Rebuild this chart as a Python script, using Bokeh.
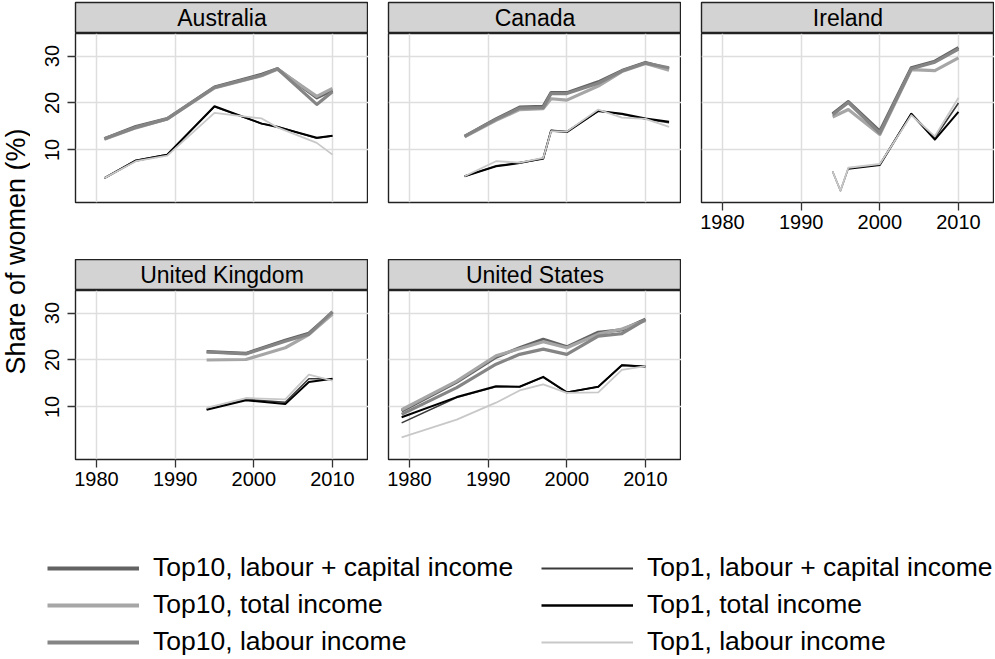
import math
from bokeh.plotting import figure
from bokeh.models import Range1d, FixedTicker, Label, Legend, LegendItem
from bokeh.layouts import row, column
from bokeh.embed import file_html
from bokeh.resources import INLINE

FONT = "Liberation Sans"

# ---------------- data ----------------
SERIES = ["Top10, labour + capital income", "Top10, total income", "Top10, labour income",
          "Top1, labour + capital income", "Top1, total income", "Top1, labour income"]

AUS_YEARS = [1981, 1985, 1989, 1995, 2001, 2003, 2008, 2010]
AUS_T10_LC = [12.4, 15.0, 16.7, 23.4, 26.1, 27.3, 21.1, 22.7]
AUS_T10_TOT = [12.3, 14.7, 16.6, 23.2, 25.8, 27.2, 21.4, 23.1]
AUS_T10_LAB = [12.4, 14.8, 16.6, 23.3, 25.9, 27.3, 19.7, 22.4]
AUS_T1_LC = [4.0, 7.8, 9.0, 19.2, 15.6, 15.0, 12.5, 13.0]
AUS_T1_TOT = [4.0, 7.7, 9.0, 19.3, 15.6, 14.9, 12.6, 13.0]
AUS_T1_LAB = [4.0, 7.6, 8.8, 17.9, 16.7, 14.8, 11.5, 9.0]

CAN_YEARS = [1987, 1991, 1994, 1997, 1998, 2000, 2004, 2007, 2010, 2013]
CAN_T10_LC = [12.9, 16.6, 19.1, 19.3, 22.2, 22.2, 24.5, 26.9, 28.6, 27.3]
CAN_T10_TOT = [12.8, 16.3, 18.6, 18.8, 20.9, 20.6, 23.6, 26.7, 28.4, 27.0]
CAN_T10_LAB = [12.9, 16.5, 18.9, 19.0, 22.0, 22.0, 24.2, 26.8, 28.5, 27.5]
CAN_T1_LC = [4.4, 6.6, 7.3, 8.1, 14.2, 13.9, 18.3, 17.6, 16.6, 15.8]
CAN_T1_TOT = [4.4, 6.5, 7.2, 8.2, 14.1, 13.8, 18.3, 17.7, 16.7, 16.0]
CAN_T1_LAB = [4.4, 7.6, 7.3, 8.3, 14.0, 13.9, 18.6, 16.9, 16.6, 14.9]

IRL_T10_YEARS = [1994, 1996, 2000, 2004, 2007, 2010]
IRL_T10_LC = [17.7, 20.3, 14.0, 27.5, 28.9, 31.8]
IRL_T10_TOT = [17.0, 18.6, 13.3, 27.1, 26.9, 29.6]
IRL_T10_LAB = [17.5, 20.1, 13.6, 27.3, 28.7, 31.5]
IRL_T1_YEARS = [1994, 1995, 1996, 2000, 2004, 2007, 2010]
IRL_T1_LC = [5.4, 1.3, 6.1, 6.9, 17.7, 12.6, 20.0]
IRL_T1_LAB = [5.4, 1.3, 6.2, 7.0, 17.4, 12.9, 21.1]
IRL_T1_TOT_YEARS = [1996, 2000, 2004, 2007, 2010]
IRL_T1_TOT = [6.0, 6.8, 17.7, 12.2, 18.1]

UK_YEARS = [1994, 1999, 2004, 2007, 2010]
UK_T10_LC = [21.8, 21.4, 24.2, 25.7, 30.1]
UK_T10_TOT = [20.0, 20.1, 22.6, 25.4, 29.8]
UK_T10_LAB = [21.7, 21.3, 24.0, 25.5, 30.3]
UK_T1_LC = [9.5, 11.6, 11.0, 16.0, 16.0]
UK_T1_TOT = [9.4, 11.4, 10.6, 15.3, 16.0]
UK_T1_LAB = [9.8, 11.9, 11.6, 16.9, 15.6]

US_YEARS = [1979, 1986, 1991, 1994, 1997, 2000, 2004, 2007, 2010]
US_T10_LC = [9.1, 15.3, 20.6, 22.6, 24.4, 22.8, 25.9, 26.4, 28.7]
US_T10_TOT = [9.4, 15.5, 20.9, 22.4, 23.9, 22.6, 25.5, 26.6, 28.4]
US_T10_LAB = [8.4, 14.1, 19.1, 21.2, 22.3, 21.2, 25.1, 25.6, 28.6]
US_T1_LC = [6.6, 12.0, 14.3, 14.3, 16.3, 13.1, 14.3, 18.9, 18.6]
US_T1_TOT = [7.8, 12.1, 14.4, 14.3, 16.4, 13.1, 14.3, 18.9, 18.6]
US_T1_LAB = [3.5, 7.3, 10.9, 13.5, 14.8, 13.0, 13.1, 17.9, 18.7]

X_TICKS = [1980, 1990, 2000, 2010]
Y_TICKS = [10, 20, 30]

DATA = {
    "Australia": [(AUS_YEARS, AUS_T10_LC), (AUS_YEARS, AUS_T10_TOT), (AUS_YEARS, AUS_T10_LAB),
                  (AUS_YEARS, AUS_T1_LC), (AUS_YEARS, AUS_T1_TOT), (AUS_YEARS, AUS_T1_LAB)],
    "Canada": [(CAN_YEARS, CAN_T10_LC), (CAN_YEARS, CAN_T10_TOT), (CAN_YEARS, CAN_T10_LAB),
               (CAN_YEARS, CAN_T1_LC), (CAN_YEARS, CAN_T1_TOT), (CAN_YEARS, CAN_T1_LAB)],
    "Ireland": [(IRL_T10_YEARS, IRL_T10_LC), (IRL_T10_YEARS, IRL_T10_TOT), (IRL_T10_YEARS, IRL_T10_LAB),
                (IRL_T1_YEARS, IRL_T1_LC), (IRL_T1_TOT_YEARS, IRL_T1_TOT), (IRL_T1_YEARS, IRL_T1_LAB)],
    "United Kingdom": [(UK_YEARS, UK_T10_LC), (UK_YEARS, UK_T10_TOT), (UK_YEARS, UK_T10_LAB),
                       (UK_YEARS, UK_T1_LC), (UK_YEARS, UK_T1_TOT), (UK_YEARS, UK_T1_LAB)],
    "United States": [(US_YEARS, US_T10_LC), (US_YEARS, US_T10_TOT), (US_YEARS, US_T10_LAB),
                      (US_YEARS, US_T1_LC), (US_YEARS, US_T1_TOT), (US_YEARS, US_T1_LAB)],
}

# ---------------- styles ----------------
COLORS = ["#636363", "#a6a6a6", "#858585", "#3a3a3a", "#000000", "#c8c8c8"]
WIDTHS = [3.2, 3.2, 3.2, 1.6, 2.0, 1.8]
LEG_WIDTHS = [4, 4, 4, 1.8, 2.3, 2.0]

FRAME_W = 293
FRAME_H = 169
STRIP_H = 31
LEFT1 = 45
GAP = 20
YLAB_W = 30
ROW1_BOTTOM = 57
ROW2_BOTTOM = 41
X_RANGE = (1977.33, 2014.58)
Y_RANGE = (-1.2, 34.8)


def make_strip(name, first_col, top):
    left = LEFT1 if first_col else GAP
    s = figure(width=FRAME_W + left, height=STRIP_H + top, x_range=Range1d(0, 1), y_range=Range1d(0, 1),
               output_backend="svg", toolbar_location=None, min_border=0,
               min_border_left=left, min_border_right=0, min_border_top=top, min_border_bottom=0)
    s.xaxis.visible = False
    s.yaxis.visible = False
    s.grid.visible = False
    s.background_fill_color = "#d3d3d3"
    s.outline_line_color = "#222222"
    s.outline_line_width = 1.4
    s.add_layout(Label(x=0.5, y=0.5, text=name, text_align="center", text_baseline="middle",
                       text_font=FONT, text_font_size="23px", text_color="black"))
    return s


def make_panel(name, first_col, show_x, bottom):
    left = LEFT1 if first_col else GAP
    p = figure(width=FRAME_W + left, height=FRAME_H + bottom,
               x_range=Range1d(*X_RANGE), y_range=Range1d(*Y_RANGE),
               output_backend="svg", toolbar_location=None, min_border=0,
               min_border_left=left, min_border_right=0, min_border_top=0, min_border_bottom=bottom)
    p.background_fill_color = "white"
    p.outline_line_color = "#222222"
    p.outline_line_width = 1.4
    p.xaxis.ticker = FixedTicker(ticks=X_TICKS)
    p.yaxis.ticker = FixedTicker(ticks=Y_TICKS)
    for ax in (p.xaxis, p.yaxis):
        ax.axis_line_color = None
        ax.major_tick_line_color = "#333333"
        ax.major_tick_line_width = 1.3
        ax.minor_tick_line_color = None
        ax.major_tick_out = 8
        ax.major_tick_in = 0
        ax.major_label_text_font = FONT
        ax.major_label_text_font_size = "20px"
        ax.major_label_text_color = "black"
    p.xaxis.major_label_standoff = 4
    p.yaxis.major_label_orientation = "vertical"
    p.yaxis.major_label_standoff = 8
    p.xaxis.visible = show_x
    p.yaxis.visible = first_col
    p.grid.grid_line_color = "#dedede"
    p.grid.grid_line_width = 1.5
    for (xs, ys), c, w in zip(DATA[name], COLORS, WIDTHS):
        p.line(xs, ys, line_color=c, line_width=w, line_join="round")
    return p


s_aus, s_can, s_irl = (make_strip("Australia", True, 2), make_strip("Canada", False, 2),
                       make_strip("Ireland", False, 2))
p_aus = make_panel("Australia", True, False, ROW1_BOTTOM)
p_can = make_panel("Canada", False, False, ROW1_BOTTOM)
p_irl = make_panel("Ireland", False, True, ROW1_BOTTOM)
s_uk, s_us = make_strip("United Kingdom", True, 0), make_strip("United States", False, 0)
p_uk = make_panel("United Kingdom", True, True, ROW2_BOTTOM)
p_us = make_panel("United States", False, True, ROW2_BOTTOM)

grid_h = 2 + STRIP_H + FRAME_H + ROW1_BOTTOM + STRIP_H + FRAME_H + ROW2_BOTTOM

ylab = figure(width=YLAB_W, height=grid_h, x_range=Range1d(0, YLAB_W), y_range=Range1d(0, grid_h),
              output_backend="svg", toolbar_location=None, min_border=0)
ylab.xaxis.visible = False
ylab.yaxis.visible = False
ylab.grid.visible = False
ylab.outline_line_color = None
ylab.add_layout(Label(x=15, y=grid_h - 251, text="Share of women (%)", angle=math.pi / 2,
                      text_align="center", text_baseline="middle", text_font=FONT,
                      text_font_size="27px", text_color="black"))

total_w = YLAB_W + (FRAME_W + LEFT1) + 2 * (FRAME_W + GAP)
LEG_H = 157
leg = figure(width=total_w, height=LEG_H, x_range=Range1d(0, 1), y_range=Range1d(0, 1),
             output_backend="svg", toolbar_location=None, min_border=0)
leg.xaxis.visible = False
leg.yaxis.visible = False
leg.grid.visible = False
leg.outline_line_color = None
rs = []
for c, w in zip(COLORS, LEG_WIDTHS):
    # legend-only renderers: their data lie outside this figure's (0, 1) range
    rs.append(leg.line(x=X_TICKS[:3], y=Y_TICKS, line_color=c, line_width=w))


def make_legend(items, x):
    return Legend(items=items, location=(x, 0), orientation="vertical",
                  glyph_width=92, glyph_height=30, label_height=30, spacing=6,
                  label_standoff=14, padding=0, margin=0,
                  label_text_font=FONT, label_text_font_size="26.5px", label_text_color="black",
                  border_line_color=None, background_fill_alpha=0)


leg.add_layout(make_legend([LegendItem(label=SERIES[i], renderers=[rs[i]]) for i in range(3)], 47))
leg.add_layout(make_legend([LegendItem(label=SERIES[i], renderers=[rs[i]]) for i in range(3, 6)], 541))

panels = column(row(s_aus, s_can, s_irl), row(p_aus, p_can, p_irl), row(s_uk, s_us), row(p_uk, p_us))
layout = column(row(ylab, panels), leg)

open("out.html", "w").write(file_html(layout, INLINE))
